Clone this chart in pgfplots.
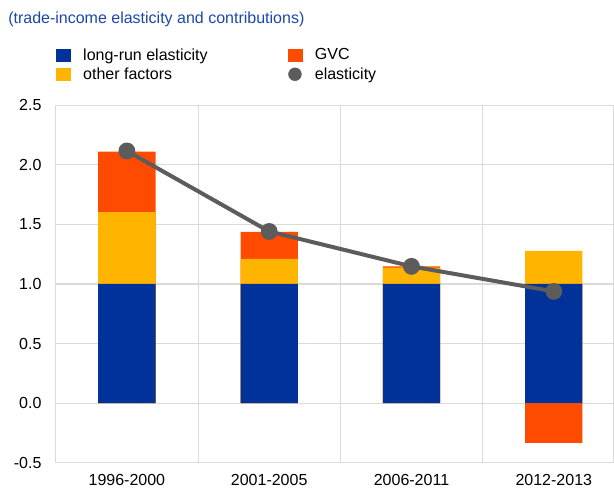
\documentclass[border=0pt]{standalone}
\usepackage{pgfplots}
\pgfplotsset{compat=1.18}
\usepackage{fontspec}
\setmainfont{Liberation Sans}
\definecolor{ecbblue}{HTML}{003299}
\definecolor{ecbyellow}{HTML}{FFB400}
\definecolor{ecborange}{HTML}{FF4B00}
\definecolor{linegray}{HTML}{5C5C5C}
\definecolor{gridgray}{HTML}{DADADA}
\definecolor{titleblue}{HTML}{1A47A8}
\begin{document}
\begin{tikzpicture}
\useasboundingbox (0,0) rectangle (460.5pt,366pt);
\node[anchor=base west, text=titleblue, font=\fontsize{12}{14}\selectfont, inner sep=0pt]
  at (6pt,348pt) {(trade-income elasticity and contributions)};
\begin{axis}[
  at={(41.8pt,19pt)}, anchor=south west,
  scale only axis, width=418.7pt, height=268pt,
  xmin=-0.5, xmax=3.423, ymin=-0.5, ymax=2.5,
  xtick={0,1,2,3},
  xticklabels={1996-2000,2001-2005,2006-2011,2012-2013},
  minor xtick={0.5,1.5,2.5},
  ytick={-0.5,0,0.5,1,1.5,2,2.5},
  ymajorgrids, xminorgrids,
  major grid style={gridgray, line width=0.8pt},
  minor grid style={gridgray, line width=0.8pt},
  axis line style={gridgray, line width=0.8pt},
  major tick length=0pt, minor tick length=0pt,
  tick label style={font=\fontsize{12}{14}\selectfont, inner sep=0pt},
  yticklabel style={xshift=-10.5pt,
    /pgf/number format/.cd, fixed, fixed zerofill, precision=1, assume math mode=true},
  xticklabel style={yshift=-8.3pt},
  legend columns=2,
  legend cell align=left,
  legend style={at={(0,1)}, anchor=south west, yshift=18pt,
    draw=none, fill=none, inner sep=0pt, row sep=4pt,
    font=\fontsize{12}{14}\selectfont,
    nodes={inner sep=0pt},
    /tikz/column 1/.style={column sep=9.5pt},
    /tikz/column 2/.style={column sep=60pt},
    /tikz/column 3/.style={column sep=9.5pt}},
]
\addlegendimage{legend image code/.code={\fill[ecbblue] (0pt,-4.5pt) rectangle (10.5pt,4.5pt);}}
\addlegendentry{long-run elasticity}
\addlegendimage{legend image code/.code={\fill[ecborange] (0pt,-4.5pt) rectangle (10.5pt,4.5pt);}}
\addlegendentry{GVC}
\addlegendimage{legend image code/.code={\fill[ecbyellow] (0pt,-4.5pt) rectangle (10.5pt,4.5pt);}}
\addlegendentry{other factors}
\addlegendimage{legend image code/.code={\fill[linegray] (5.25pt,0pt) circle (4.8pt);}}
\addlegendentry{elasticity}

% GVC (top of stack; negative in 2012-2013)
\addplot[ybar, bar width=0.403, bar shift=0pt, fill=ecborange, draw=none, forget plot]
  coordinates {(0,2.111) (1,1.438) (2,1.148) (3,-0.333)};
% other factors (top of stack)
\addplot[ybar, bar width=0.403, bar shift=0pt, fill=ecbyellow, draw=none, forget plot]
  coordinates {(0,1.603) (1,1.210) (2,1.137) (3,1.279)};
% long-run elasticity
\addplot[ybar, bar width=0.403, bar shift=0pt, fill=ecbblue, draw=none, forget plot]
  coordinates {(0,1) (1,1) (2,1) (3,1)};
% elasticity
\addplot[linegray, line width=3pt, mark=*, mark size=4.8pt, forget plot]
  coordinates {(0,2.117) (1,1.441) (2,1.148) (3,0.938)};
\end{axis}
\end{tikzpicture}
\end{document}
